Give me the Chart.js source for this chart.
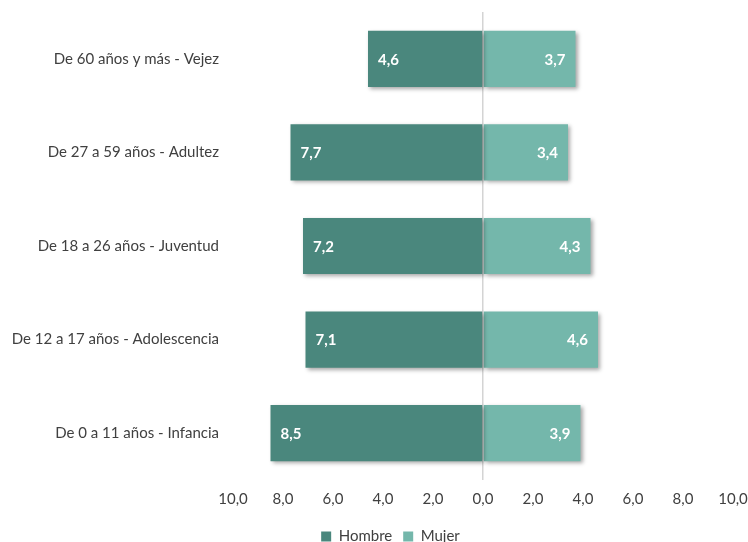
<!DOCTYPE html>
<html>
<head>
<meta charset="utf-8">
<script src="https://cdn.jsdelivr.net/npm/chart.js@4/dist/chart.umd.min.js"></script>
<style>
html,body{margin:0;padding:0;background:#fff;}
#wrap{width:748px;height:542px;position:relative;}
</style>
</head>
<body>
<div id="wrap"><canvas id="c" width="748" height="542"></canvas></div>
<script>
const categories = [
  "De 60 años y más - Vejez",
  "De 27 a 59 años - Adultez",
  "De 18 a 26 años - Juventud",
  "De 12 a 17 años - Adolescencia",
  "De 0 a 11 años - Infancia"
];
const hombre = [4.6, 7.7, 7.2, 7.1, 8.5];
const mujer = [3.7, 3.4, 4.3, 4.6, 3.9];
const seriesNames = ["Hombre", "Mujer"];
const xMin = -10, xMax = 10, xStep = 2;

const fmt = v => Math.abs(v).toFixed(1).replace('.', ',');

const shadowPlugin = {
  id: 'shadow',
  afterLayout(chart) {
    if (chart.legend) { chart.legend.left += 22; chart.legend.right += 22; }
  },
  beforeDatasetsDraw(chart) {
    const ctx = chart.ctx;
    ctx.save();
    ctx.shadowColor = 'rgba(0,0,0,0.35)';
    ctx.shadowBlur = 4;
    ctx.shadowOffsetX = 2;
    ctx.shadowOffsetY = 2;
  },
  afterDatasetsDraw(chart) {
    chart.ctx.restore();
    const ctx = chart.ctx;
    ctx.save();
    ctx.font = 'bold 15px Lato';
    ctx.fillStyle = '#ffffff';
    ctx.textBaseline = 'middle';
    chart.data.datasets.forEach((ds, di) => {
      const meta = chart.getDatasetMeta(di);
      meta.data.forEach((bar, i) => {
        const v = ds.data[i];
        const txt = fmt(v);
        if (v < 0) {
          ctx.textAlign = 'left';
          ctx.fillText(txt, bar.x + 10, bar.y + 1);
        } else {
          ctx.textAlign = 'right';
          ctx.fillText(txt, bar.x - 10, bar.y + 1);
        }
      });
    });
    ctx.restore();
  }
};

new Chart(document.getElementById('c'), {
  type: 'bar',
  data: {
    labels: categories,
    datasets: [
      { label: seriesNames[0], data: hombre.map(v => -v), backgroundColor: '#4a877d', barPercentage: 0.6, categoryPercentage: 1.0 },
      { label: seriesNames[1], data: mujer, backgroundColor: '#74b7ab', barPercentage: 0.6, categoryPercentage: 1.0 }
    ]
  },
  options: {
    indexAxis: 'y',
    responsive: false,
    animation: false,
    layout: { padding: { top: 12, right: 15, left: 4, bottom: -12 } },
    scales: {
      x: {
        stacked: true,
        min: xMin, max: xMax,
        ticks: { stepSize: xStep, callback: v => fmt(v), color: '#404040', font: { family: 'Lato', size: 15 }, padding: 10 },
        grid: { drawTicks: false, color: c => c.tick && c.tick.value === 0 ? '#d4d4d4' : 'rgba(0,0,0,0)', lineWidth: 1.5 },
        border: { display: false },
        afterFit(s) { s.paddingLeft = 0; s.paddingRight = 0; }
      },
      y: {
        stacked: true,
        ticks: { color: '#404040', font: { family: 'Lato', size: 15 }, padding: 14 },
        grid: { display: false, drawTicks: false },
        border: { display: false },
        afterFit(s) { s.width = 229; s.paddingTop = 0; s.paddingBottom = 0; }
      }
    },
    plugins: {
      legend: {
        position: 'bottom',
        labels: { boxWidth: 10, boxHeight: 10, color: '#404040', font: { family: 'Lato', size: 15 }, padding: 11 }
      },
      tooltip: { enabled: false }
    }
  },
  plugins: [shadowPlugin]
});
</script>
</body>
</html>
